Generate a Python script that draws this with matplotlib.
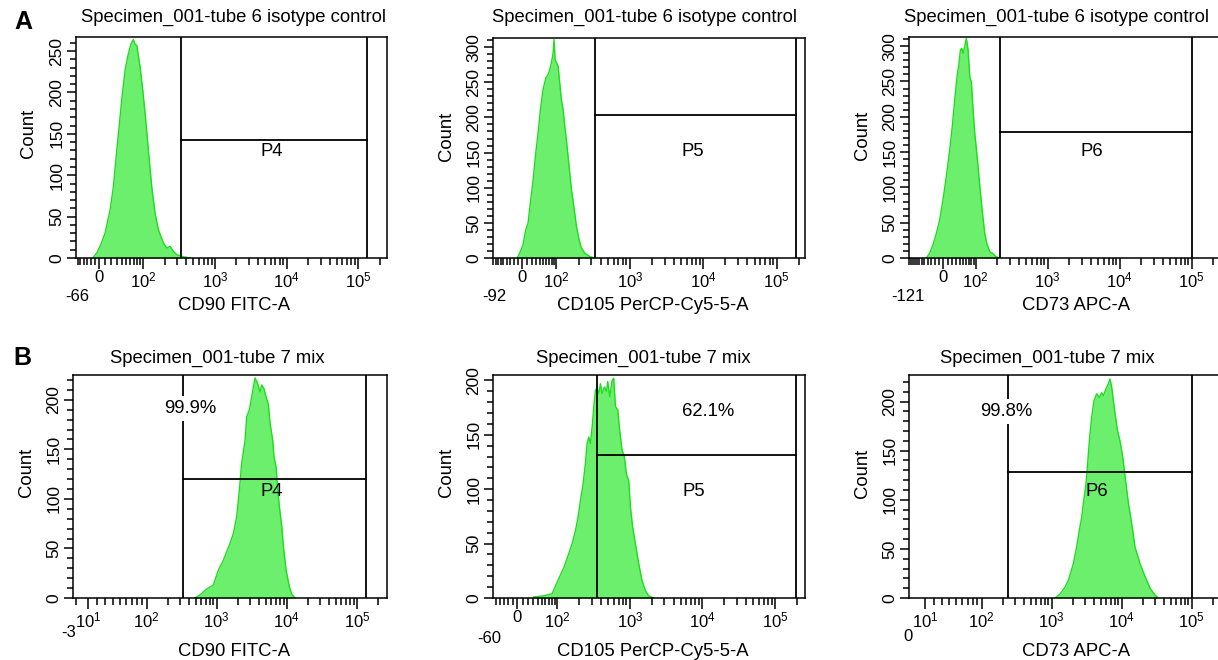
import numpy as np
import matplotlib
matplotlib.use("Agg")
import matplotlib.pyplot as plt
from matplotlib import font_manager
from matplotlib.ticker import MultipleLocator, FixedLocator

# ---------------- data (x in display-decade units, y = event count) ----------------
a1_x = [1.298, 1.353, 1.40, 1.470, 1.540, 1.586, 1.633, 1.670, 1.702, 1.749, 1.795, 1.833, 1.865,
        1.888, 1.912, 1.958, 1.995, 2.028, 2.074, 2.121, 2.167, 2.214, 2.284, 2.330, 2.377, 2.423,
        2.470, 2.540, 2.656]
a1_count = [0, 6, 14, 30, 58, 86, 130, 162, 191, 227, 247, 259, 264,
            258, 257, 231, 203, 175, 130, 86, 54, 34, 18, 12, 14, 8, 4, 2, 0]

a2_x = [1.464, 1.5, 1.545, 1.582, 1.614, 1.65, 1.682, 1.718, 1.75, 1.782, 1.818, 1.855, 1.886,
        1.909, 1.932, 1.955, 1.968, 1.982, 2.0, 2.023, 2.045, 2.068, 2.091, 2.114, 2.136, 2.173,
        2.205, 2.236, 2.273, 2.309, 2.341, 2.386, 2.455, 2.523]
a2_count = [0, 7, 19, 40, 50, 83, 111, 149, 178, 211, 240, 256, 261,
            268, 278, 292, 311, 282, 278, 273, 249, 225, 211, 187, 168, 130,
            97, 74, 45, 26, 14, 7, 2, 0]

a3_x = [1.314, 1.360, 1.407, 1.453, 1.499, 1.546, 1.592, 1.638, 1.675, 1.708, 1.740, 1.768, 1.787,
        1.805, 1.824, 1.847, 1.870, 1.893, 1.917, 1.940, 1.963, 1.986, 2.019, 2.056, 2.093, 2.125,
        2.158, 2.195, 2.241, 2.278, 2.325]
a3_count = [0, 7, 19, 35, 54, 83, 116, 153, 187, 224, 257, 276, 295,
            297, 290, 300, 311, 295, 257, 248, 210, 177, 144, 102, 64, 35,
            19, 9, 6, 2, 0]

b1_x = [2.690, 2.762, 2.857, 2.952, 3.024, 3.095, 3.190, 3.238, 3.286, 3.324, 3.357, 3.405, 3.429,
        3.467, 3.500, 3.524, 3.548, 3.581, 3.619, 3.643, 3.676, 3.705, 3.738, 3.762, 3.800, 3.819,
        3.848, 3.867, 3.895, 3.929, 3.952, 3.990, 4.038, 4.071, 4.119]
b1_count = [0, 3, 9, 13, 28, 38, 55, 65, 82, 109, 136, 159, 183,
            190, 203, 213, 222, 217, 208, 215, 211, 203, 195, 176, 159, 142,
            132, 112, 92, 72, 52, 28, 11, 4, 0]

b2_x = [1.679, 1.817, 1.931, 1.963, 2.023, 2.092, 2.160, 2.206, 2.252, 2.289, 2.321, 2.357, 2.389,
        2.412, 2.435, 2.458, 2.481, 2.504, 2.527, 2.550, 2.573, 2.596, 2.618, 2.650, 2.678, 2.696,
        2.724, 2.756, 2.779, 2.802, 2.834, 2.861, 2.893, 2.925, 2.953, 2.985, 3.008, 3.040, 3.077,
        3.122, 3.168, 3.214, 3.260, 3.328]
b2_count = [1, 2, 4, 9, 18, 28, 41, 50, 62, 75, 90, 105, 124,
            142, 148, 142, 157, 176, 191, 193, 188, 197, 188, 194, 190, 199,
            185, 200, 202, 176, 173, 154, 136, 130, 114, 108, 84, 65, 50,
            32, 16, 7, 2, 0]

b3_x = [3.048, 3.119, 3.190, 3.238, 3.310, 3.357, 3.395, 3.429, 3.452, 3.490, 3.514, 3.538, 3.571,
        3.605, 3.643, 3.681, 3.714, 3.738, 3.776, 3.810, 3.833, 3.857, 3.881, 3.905, 3.938, 3.976,
        4.014, 4.048, 4.095, 4.129, 4.157, 4.190, 4.262, 4.333, 4.405, 4.476, 4.524]
b3_count = [0, 4, 11, 18, 35, 52, 69, 82, 96, 116, 137, 160, 184,
            201, 208, 204, 209, 206, 213, 218, 223, 215, 201, 188, 171, 160,
            144, 124, 97, 82, 69, 52, 35, 22, 10, 3, 0]

titles = ["Specimen_001-tube 6 isotype control"] * 3 + ["Specimen_001-tube 7 mix"] * 3
xlabels = ["CD90 FITC-A", "CD105 PerCP-Cy5-5-A", "CD73 APC-A"] * 2
gate_names = ["P4", "P5", "P6", "P4", "P5", "P6"]
gate_pct = [None, None, None, "99.9%", "62.1%", "99.8%"]
gate_left = [2.530, 2.523, 2.334, 2.514, 2.550, 2.371]
gate_right = [5.121, 5.259, 5.000, 5.129, 5.284, 5.000]
gate_level = [142.5, 203, 178, 120, 131, 128.5]
edge_labels = ["-66", "-92", "-121", "-3", "-60", "0"]

# axis calibration: intensity value -> display position (decade units)
cal_values = [[-66, 0, 100], [-92, 0, 100], [-121, 0, 100],
              [-3, 10, 100], [-60, 0, 100], [0, 10, 100]]
cal_pos = [[1.065, 1.391, 2.0], [1.136, 1.536, 2.0], [1.073, 1.546, 2.0],
           [0.952, 1.167, 2.0], [1.116, 1.450, 2.0], [0.962, 1.190, 2.0]]
xlims = [(1.065, 5.40), (1.136, 5.386), (1.073, 5.406),
         (0.952, 5.429), (1.116, 5.413), (0.962, 5.433)]
ymax = [267, 313, 313, 225, 205, 227]

hist_x = [a1_x, a2_x, a3_x, b1_x, b2_x, b3_x]
hist_y = [a1_count, a2_count, a3_count, b1_count, b2_count, b3_count]
name_pos = [(3.795, 128.5), (3.864, 151.7), (3.609, 151), (3.786, 107), (3.878, 97.6), (3.643, 108)]
pct_pos = [None, None, None, (2.619, 191), (4.084, 171), (2.348, 189.6)]

# ---------------- layout ----------------
W, H = 1218, 660
names = {f.name for f in font_manager.fontManager.ttflist}
REG = "Liberation Sans" if "Liberation Sans" in names else "DejaVu Sans"
NAR = "Liberation Sans Narrow" if "Liberation Sans Narrow" in names else REG
plt.rcParams["font.family"] = [REG, "DejaVu Sans"]

FILL = "#6CEF6C"
EDGE = "#1EDC1E"

fig = plt.figure(figsize=(W / 100, H / 100), dpi=100)
fig.patch.set_facecolor("white")

rects = [(76, 37, 387, 258), (493, 38, 805, 258), (909, 37, 1221, 258),
         (73, 375, 387, 598), (493, 375, 805, 598), (909, 375, 1222, 598)]
title_xy = [(234, 17), (645, 17), (1057, 17), (217, 358), (643, 358), (1047, 358)]
xlabel_xy = [(234, 305), (653, 305), (1076, 305), (234, 652), (653, 652), (1076, 652)]
count_xy = [(28, 133), (447, 136), (863, 135), (27, 472), (446, 472), (863, 473)]
edge_offset = [(1, -28), (1, -28), (-1, -28), (-3, -25), (-3, -29), (-1, -28)]

FS = 13.3


def fx(px):
    return px / W


def fy(py):
    return 1 - py / H


def disp(v, cv, cp):
    v = np.asarray(v, float)
    cv = np.asarray(cv, float)
    out = np.interp(np.arcsinh(v / 50.0), np.arcsinh(cv / 50.0), cp)
    hi = v >= 100
    out[hi] = np.log10(v[hi])
    return out


for i in range(6):
    l, t, r, b = rects[i]
    ax = fig.add_axes([fx(l), fy(b), (r - l) / W, (b - t) / H])
    cv, cp = cal_values[i], cal_pos[i]
    x0, x1 = xlims[i]
    ax.set_xlim(x0, x1)
    ax.set_ylim(0, ymax[i])

    # histogram
    ax.fill_between(hist_x[i], hist_y[i], 0, color=FILL, lw=0, zorder=1)
    ax.plot(hist_x[i], hist_y[i], color=EDGE, lw=1.0, zorder=2)

    # gates
    lw = 1.3
    ax.plot([gate_left[i], gate_left[i]], [0, ymax[i]], color="black", lw=lw, zorder=3)
    ax.plot([gate_right[i], gate_right[i]], [0, ymax[i]], color="black", lw=lw, zorder=3)
    ax.plot([gate_left[i], gate_right[i]], [gate_level[i], gate_level[i]], color="black", lw=lw, zorder=3)
    ax.text(name_pos[i][0], name_pos[i][1], gate_names[i], ha="center", va="center",
            fontsize=FS, zorder=5)
    if gate_pct[i]:
        ax.text(pct_pos[i][0], pct_pos[i][1], gate_pct[i], ha="center", va="center",
                fontsize=FS, zorder=5,
                bbox=dict(facecolor="white", edgecolor="none", pad=3) if i != 4 else None)

    # x ticks
    major_vals = []
    major_labs = []
    for v, lab in [(0, "0"), (10, r"$\mathregular{10^{1}}$"), (100, r"$\mathregular{10^{2}}$"),
                   (1000, r"$\mathregular{10^{3}}$"), (10000, r"$\mathregular{10^{4}}$"),
                   (100000, r"$\mathregular{10^{5}}$")]:
        if v in (0, 10) and v not in cv:
            continue
        if v == cv[0]:
            continue
        major_vals.append(v)
        major_labs.append(lab)
    major_pos = disp(major_vals, cv, cp)
    ax.set_xticks(major_pos)
    ax.set_xticklabels(major_labs, fontfamily=NAR, fontsize=12)

    minor_vals = [-10 * k for k in range(1, 13)] + [0] + [10 * k for k in range(1, 10)]
    for k in range(2, 6):
        minor_vals += [m * 10 ** k for m in range(2, 10)]
    minor_vals = [v for v in minor_vals if v > cv[0] and v not in major_vals]
    mpos = disp(minor_vals, cv, cp)
    mpos = [p for p in mpos if x0 < p < x1]
    ax.xaxis.set_minor_locator(FixedLocator(mpos))

    ax.yaxis.set_major_locator(MultipleLocator(50))
    ax.yaxis.set_minor_locator(MultipleLocator(10))
    ax.tick_params(axis="x", which="major", direction="out", length=8, width=1.1, pad=1)
    ax.tick_params(axis="x", which="minor", direction="out", length=5, width=1.1)
    ax.tick_params(axis="y", which="major", direction="out", length=6.5, width=1.1, pad=2)
    ax.tick_params(axis="y", which="minor", direction="out", length=4.5, width=1.1)
    for lab in ax.get_yticklabels():
        lab.set_rotation(90)
        lab.set_va("center")
        lab.set_fontfamily(NAR)
        lab.set_fontsize(12.5)
    for s in ax.spines.values():
        s.set_linewidth(1.1)

    # edge (minimum) label of the x axis
    ax.annotate(edge_labels[i], xy=(x0, 0), xycoords=("data", "axes fraction"),
                xytext=edge_offset[i], textcoords="offset points",
                ha="center", va="center", fontfamily=NAR, fontsize=12)

    fig.text(fx(title_xy[i][0]), fy(title_xy[i][1]), titles[i], ha="center", va="center", fontsize=FS)
    fig.text(fx(xlabel_xy[i][0]), fy(xlabel_xy[i][1]), xlabels[i], ha="center", va="center", fontsize=FS)
    fig.text(fx(count_xy[i][0]), fy(count_xy[i][1]), "Count", ha="center", va="center",
             rotation=90, fontsize=FS)

fig.text(fx(23), fy(22), "A", ha="center", va="center", fontsize=18, fontweight="bold")
fig.text(fx(22), fy(358), "B", ha="center", va="center", fontsize=18, fontweight="bold")

fig.savefig("out.png", dpi=100, facecolor="white")
